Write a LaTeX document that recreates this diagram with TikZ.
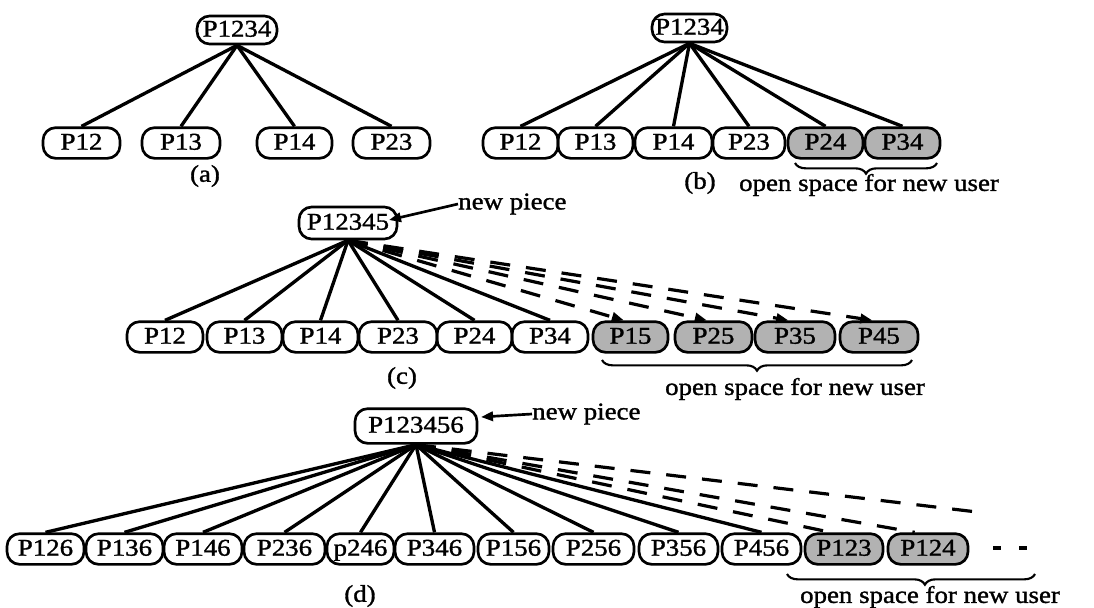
\documentclass[tikz,border=0pt]{standalone}
\usepackage{fontspec}
\setmainfont[FakeStretch=1.12,FakeBold=1.3]{Liberation Serif}
\usetikzlibrary{arrows.meta,decorations.pathreplacing}
\begin{document}
\begin{tikzpicture}[x=0.75pt,y=-0.75pt,
  txt/.style={font=\fontsize{18}{21}\selectfont, inner sep=0pt},
  pn/.style={draw, line width=2pt, rounded corners=9.5pt, minimum height=23pt,
    inner sep=0pt, txt, text height=12pt, text depth=2pt, minimum width=#1*0.75pt},
  sn/.style={pn=#1, fill=black!30},
  edge/.style={line width=2.5pt},
  dedge/.style={line width=2.4pt, dash pattern=on 15pt off 12pt},
  tip/.style={-{Triangle[length=9pt,width=7pt]}},
  bracestyle/.style={decorate, line width=1.6pt,
    decoration={brace, mirror, amplitude=8pt, aspect=#1}},
  dotmark/.style={line width=3.2pt}
]
\useasboundingbox (0,0) rectangle (1094,607);

% ---------- (a)
\node[pn=80, minimum height=21pt] (a0) at (237,30) {P1234};
\node[pn=77] (a1) at (81.5,143) {P12};
\node[pn=78] (a2) at (181,143) {P13};
\node[pn=75] (a3) at (294.5,143) {P14};
\node[pn=77] (a4) at (391.5,143) {P23};
\foreach \n in {a1,a2,a3,a4} \draw[edge] (a0.south) -- (\n.north);
\node[txt] (alab) at (205,176) {(a)};

% ---------- (b)
\node[pn=75, minimum height=21pt] (b0) at (689.5,28) {P1234};
\node[pn=75] (b1) at (520.5,143) {P12};
\node[pn=75] (b2) at (595.5,143) {P13};
\node[pn=77] (b3) at (673.5,143) {P14};
\node[pn=72] (b4) at (749,143) {P23};
\node[sn=75] (b5) at (825.5,143) {P24};
\node[sn=75] (b6) at (902.5,143) {P34};
\foreach \n in {b1,b2,b3,b4,b5,b6} \draw[edge] (b0.south) -- (\n.north);
\node[txt] (blab) at (700,183) {(b)};
\coordinate (bbl) at (795,163);
\coordinate (bbr) at (937,163);
\draw[bracestyle=0.5] (bbl) -- (bbr);
\node[txt] (bopen) at (869,185) {open space for new user};

% ---------- (c)
\node[pn=98, minimum height=24pt] (c0) at (348,223) {P12345};
\node[pn=76] (c1) at (165,337) {P12};
\node[pn=75] (c2) at (244.5,337) {P13};
\node[pn=75] (c3) at (320.5,337) {P14};
\node[pn=78] (c4) at (398,337) {P23};
\node[pn=75] (c5) at (474.5,337) {P24};
\node[pn=76] (c6) at (550,337) {P34};
\node[sn=75] (c7) at (630.5,337) {P15};
\node[sn=77] (c8) at (713.5,337) {P25};
\node[sn=80] (c9) at (795,337) {P35};
\node[sn=78] (c10) at (879,337) {P45};
\foreach \n in {c1,c2,c3,c4,c5,c6} \draw[edge] (c0.south) -- (\n.north);
\foreach \n in {c7,c8,c9,c10} \draw[dedge,tip] (c0.south) -- ([xshift=-5pt]\n.north);
\node[txt] (clab) at (402,378) {(c)};
\coordinate (cbl) at (602,360);
\coordinate (cbr) at (912,360);
\draw[bracestyle=0.5] (cbl) -- (cbr);
\node[txt] (copen) at (795,389) {open space for new user};
\node[txt, anchor=west] (cnew) at (458,204) {new piece};
\coordinate (ctip) at (389,220);
\draw[line width=2pt, tip] (cnew.west) -- (ctip);

% ---------- (d)
\node[pn=122, minimum height=26pt] (d0) at (416,426) {P123456};
\node[pn=77] (d1) at (45.5,549) {P126};
\node[pn=77] (d2) at (124.5,549) {P136};
\node[pn=78] (d3) at (203,549) {P146};
\node[pn=81] (d4) at (284.5,549) {P236};
\node[pn=67] (d5) at (360.5,549) {p246};
\node[pn=79] (d6) at (434.5,549) {P346};
\node[pn=71] (d7) at (513.5,549) {P156};
\node[pn=81] (d8) at (593.5,549) {P256};
\node[pn=79] (d9) at (678.5,549) {P356};
\node[pn=79] (d10) at (761.5,549) {P456};
\node[sn=78] (d11) at (844,549) {P123};
\node[sn=80] (d12) at (928,549) {P124};
\foreach \n in {d1,d2,d3,d4,d5,d6,d7,d8,d9,d10} \draw[edge] (d0.south) -- (\n.north);
\coordinate (dfree) at (977,512);
\draw[dedge] (d0.south) -- ([xshift=-10pt]d11.north);
\draw[dedge] (d0.south) -- ([xshift=-10pt]d12.north);
\draw[dedge] (d0.south) -- (dfree);
\coordinate (dot1a) at (993,548);
\coordinate (dot1b) at (1001,548);
\coordinate (dot2a) at (1019,548);
\coordinate (dot2b) at (1027,548);
\draw[dotmark] (dot1a) -- (dot1b);
\draw[dotmark] (dot2a) -- (dot2b);
\node[txt] (dlab) at (360,596) {(d)};
\coordinate (dbl) at (787,574);
\coordinate (dbr) at (1035,574);
\draw[bracestyle=0.556] (dbl) -- (dbr);
\node[txt] (dopen) at (930,597) {open space for new user};
\node[txt, anchor=west] (dnew) at (532,414) {new piece};
\coordinate (dtip) at (481,417);
\draw[line width=2pt, tip] (dnew.west) -- (dtip);
\end{tikzpicture}
\end{document}
